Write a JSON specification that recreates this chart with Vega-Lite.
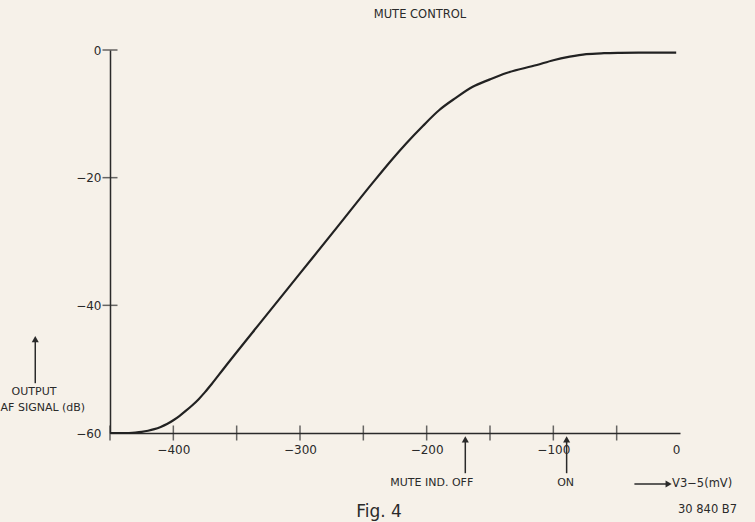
{
  "$schema": "https://vega.github.io/schema/vega-lite/v6.json",
  "width": 570,
  "height": 383,
  "autosize": {"type": "none"},
  "padding": {"left": 110, "top": 50, "right": 75, "bottom": 89},
  "background": "#f6f1e9",
  "config": {
    "view": {"stroke": null},
    "font": "DejaVu Sans",
    "axis": {"domainColor": "#2a2a2a", "domainWidth": 1.5, "labelColor": "#2a2a2a", "labelFont": "DejaVu Sans", "labelFontSize": 12, "grid": false, "ticks": false, "title": null}
  },
  "title": {"text": "MUTE  CONTROL", "fontSize": 11.5, "fontWeight": "normal", "color": "#2a2a2a", "dx": 25, "offset": 24, "font": "DejaVu Sans"},
  "datasets": {
    "curve": [
      {"mv": -450, "db": -60},
      {"mv": -440, "db": -60},
      {"mv": -430, "db": -59.92},
      {"mv": -425, "db": -59.82},
      {"mv": -420, "db": -59.65},
      {"mv": -415, "db": -59.4},
      {"mv": -410, "db": -59.05},
      {"mv": -405, "db": -58.6},
      {"mv": -400, "db": -58.0},
      {"mv": -395, "db": -57.3},
      {"mv": -390, "db": -56.5},
      {"mv": -385, "db": -55.65},
      {"mv": -380, "db": -54.7},
      {"mv": -375, "db": -53.6},
      {"mv": -370, "db": -52.4},
      {"mv": -360, "db": -49.85},
      {"mv": -330, "db": -42.4},
      {"mv": -300, "db": -35.0},
      {"mv": -270, "db": -27.6},
      {"mv": -243, "db": -20.9},
      {"mv": -228, "db": -17.3},
      {"mv": -216, "db": -14.6},
      {"mv": -203, "db": -11.9},
      {"mv": -190, "db": -9.4},
      {"mv": -177, "db": -7.5},
      {"mv": -164, "db": -5.8},
      {"mv": -150, "db": -4.6},
      {"mv": -137, "db": -3.6},
      {"mv": -113, "db": -2.35},
      {"mv": -100, "db": -1.6},
      {"mv": -87, "db": -1.05},
      {"mv": -74, "db": -0.65},
      {"mv": -60, "db": -0.5},
      {"mv": -47, "db": -0.45},
      {"mv": -25, "db": -0.42},
      {"mv": -3, "db": -0.42}
    ],
    "xticks": [{"v": -450}, {"v": -400}, {"v": -350}, {"v": -300}, {"v": -250}, {"v": -200}, {"v": -150}, {"v": -100}, {"v": -50}],
    "yticks": [{"v": 0}, {"v": -20}, {"v": -40}],
    "arrows": [
      {"x": -509, "y": -52.2, "x2": -509, "y2": -45.5},
      {"x": -169.5, "y": -66.3, "x2": -169.5, "y2": -61.2},
      {"x": -89.5, "y": -66.3, "x2": -89.5, "y2": -61.2},
      {"x": -36, "y": -68, "x2": -10, "y2": -68}
    ],
    "headsUp": [
      {"x": -509, "y": -45.3},
      {"x": -169.5, "y": -61.0},
      {"x": -89.5, "y": -61.0}
    ],
    "headsRight": [
      {"x": -9, "y": -68}
    ],
    "centerLabels": [
      {"x": -510, "y": -53.6, "t": "OUTPUT"},
      {"x": -503, "y": -56.1, "t": "AF SIGNAL (dB)"},
      {"x": -196, "y": -67.8, "t": "MUTE IND. OFF"},
      {"x": -90.3, "y": -67.8, "t": "ON"}
    ],
    "leftLabels": [
      {"x": -6.3, "y": -68, "t": "V3−5(mV)"},
      {"x": -1.6, "y": -72.1, "t": "30 840 B7"}
    ],
    "fig": [{"x": -237.6, "y": -73.1, "t": "Fig. 4"}]
  },
  "layer": [
    {
      "data": {"name": "curve"},
      "mark": {"type": "line", "color": "#222222", "strokeWidth": 2.2, "interpolate": "monotone"},
      "encoding": {
        "x": {"field": "mv", "type": "quantitative", "scale": {"domain": [-450, 0], "nice": false, "zero": false},
              "axis": {"values": [-400, -300, -200, -100, 0], "labelPadding": 11}},
        "y": {"field": "db", "type": "quantitative", "scale": {"domain": [-60, 0], "nice": false, "zero": false},
              "axis": {"values": [0, -20, -40, -60], "labelPadding": 9}}
      }
    },
    {
      "data": {"name": "xticks"},
      "mark": {"type": "tick", "orient": "vertical", "size": 15, "thickness": 1.5, "color": "#2a2a2a"},
      "encoding": {
        "x": {"field": "v", "type": "quantitative"},
        "y": {"datum": -60, "type": "quantitative"}
      }
    },
    {
      "data": {"name": "yticks"},
      "mark": {"type": "tick", "orient": "horizontal", "size": 15, "thickness": 1.5, "color": "#2a2a2a"},
      "encoding": {
        "y": {"field": "v", "type": "quantitative"},
        "x": {"datum": -450, "type": "quantitative"}
      }
    },
    {
      "data": {"name": "arrows"},
      "mark": {"type": "rule", "color": "#2a2a2a", "strokeWidth": 1.5},
      "encoding": {
        "x": {"field": "x", "type": "quantitative"},
        "x2": {"field": "x2"},
        "y": {"field": "y", "type": "quantitative"},
        "y2": {"field": "y2"}
      }
    },
    {
      "data": {"name": "headsUp"},
      "mark": {"type": "point", "shape": "triangle-up", "filled": true, "size": 50, "color": "#2a2a2a", "opacity": 1},
      "encoding": {
        "x": {"field": "x", "type": "quantitative"},
        "y": {"field": "y", "type": "quantitative"}
      }
    },
    {
      "data": {"name": "headsRight"},
      "mark": {"type": "point", "shape": "triangle-right", "filled": true, "size": 50, "color": "#2a2a2a", "opacity": 1},
      "encoding": {
        "x": {"field": "x", "type": "quantitative"},
        "y": {"field": "y", "type": "quantitative"}
      }
    },
    {
      "data": {"name": "centerLabels"},
      "mark": {"type": "text", "fontSize": 11, "color": "#2a2a2a", "baseline": "middle", "align": "center", "font": "DejaVu Sans"},
      "encoding": {
        "x": {"field": "x", "type": "quantitative"},
        "y": {"field": "y", "type": "quantitative"},
        "text": {"field": "t"}
      }
    },
    {
      "data": {"name": "leftLabels"},
      "mark": {"type": "text", "fontSize": 11.5, "color": "#2a2a2a", "baseline": "middle", "align": "left", "font": "DejaVu Sans"},
      "encoding": {
        "x": {"field": "x", "type": "quantitative"},
        "y": {"field": "y", "type": "quantitative"},
        "text": {"field": "t"}
      }
    },
    {
      "data": {"name": "fig"},
      "mark": {"type": "text", "fontSize": 17, "color": "#2a2a2a", "baseline": "alphabetic", "align": "center", "font": "DejaVu Sans"},
      "encoding": {
        "x": {"field": "x", "type": "quantitative"},
        "y": {"field": "y", "type": "quantitative"},
        "text": {"field": "t"}
      }
    }
  ]
}
